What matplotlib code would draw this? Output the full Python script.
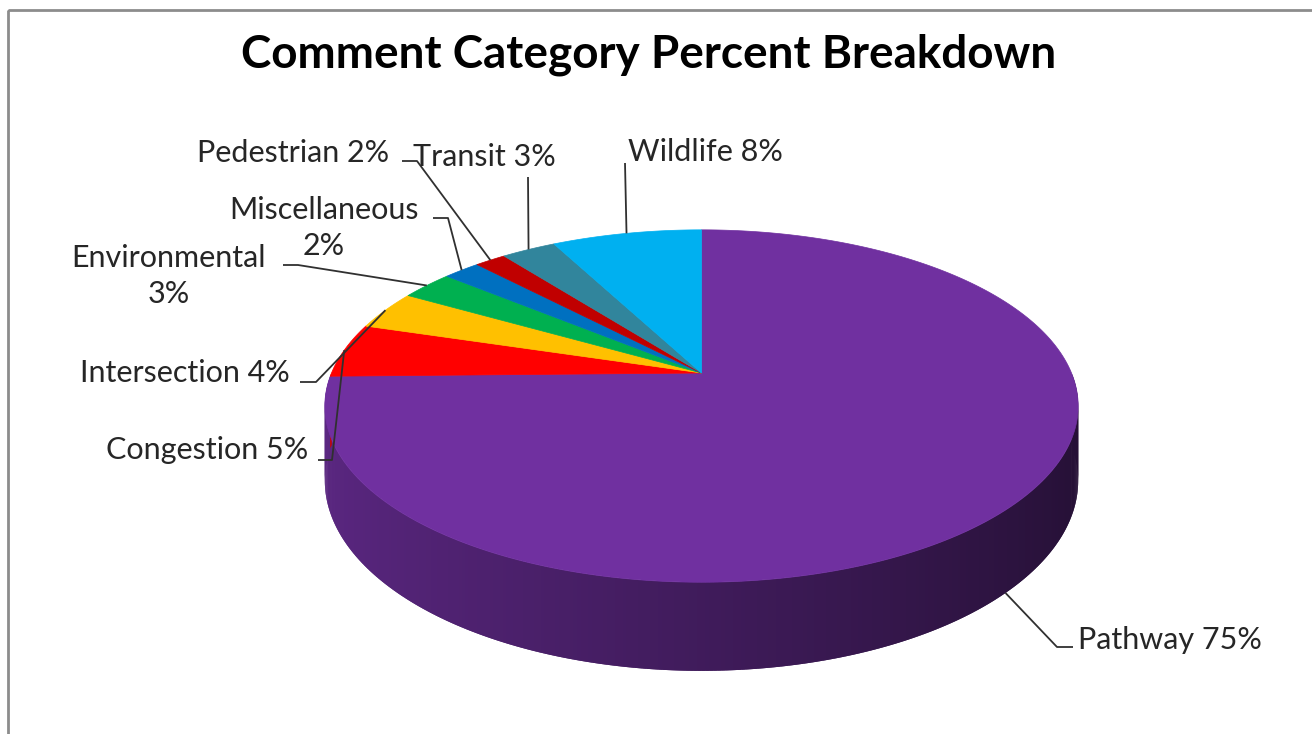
import numpy as np
import matplotlib
matplotlib.use('Agg')
import matplotlib.pyplot as plt
from matplotlib.patches import Polygon, Rectangle

# data, clockwise from 12 o'clock (Excel order)
categories = ['Pathway', 'Congestion', 'Intersection', 'Environmental',
              'Miscellaneous', 'Pedestrian', 'Transit', 'Wildlife']
percent = [74.7, 5.0, 3.6, 2.7, 1.9, 1.6, 2.8, 7.7]
colors = ['#7030A0', '#FF0000', '#FFC000', '#00B050',
          '#0070C0', '#C00000', '#31859C', '#00B0F0']
title = 'Comment Category Percent Breakdown'

# label layout (pixels): text x, text y, alignment, line break, leader knee points
label_sep = [' ', ' ', ' ', '\n', '\n', ' ', ' ', ' ']
label_pos = [(1078, 640, 'left'), (308, 450, 'right'), (290, 373, 'right'),
             (169, 276, 'center'), (324, 228, 'center'), (389, 153, 'right'),
             (413, 157, 'left'), (628, 152, 'left')]
label_knees = [[(1073, 647), (1057, 647)], [(318, 460), (332, 460)],
               [(300, 382), (316, 382)], [(283, 265), (298, 265)],
               [(433, 218), (448, 218)], [(402, 161), (417, 161)],
               [(528, 177)], [(625, 163)]]

# 3-D pie geometry (pixels)
CX, CY = 701.5, 373.0
RX, RY = 370.0, 170.0
PERSP = 0.1875
DEPTH = 72.0

W, H = 1312, 734
FONT = ['Lato', 'DejaVu Sans']


def rim(phi, drop=0.0):
    r = np.radians(phi)
    k = 1.0 / (1.0 + PERSP * np.sin(r))
    return CX + RX * np.cos(r) * k, CY - RY * np.sin(r) * k + drop * k


def shade(c, f):
    rgb = np.array(matplotlib.colors.to_rgb(c))
    return tuple(rgb * f)


fig = plt.figure(figsize=(W / 100, H / 100), dpi=100)
ax = fig.add_axes([0, 0, 1, 1])
ax.set_xlim(0, W)
ax.set_ylim(H, 0)
ax.axis('off')

# chart border
ax.add_patch(Rectangle((8, 10), 1340, 760, fill=False, ec='#8c8c8c', lw=2))

frac = np.array(percent) / sum(percent)
bounds = 90 - 360 * np.concatenate([[0], np.cumsum(frac)])

# side walls (front half only), shaded darker to the right
for i, c in enumerate(colors):
    a0, a1 = bounds[i], bounds[i + 1]
    lo, hi = max(a1, -180), min(a0, 0)
    if hi <= lo:
        continue
    steps = np.linspace(hi, lo, max(int((hi - lo) / 0.5) + 2, 2))
    for j, (p, q) in enumerate(zip(steps[:-1], steps[1:])):
        m = 0.5 * (p + q)
        f = 0.57 - 0.24 * np.cos(np.radians(m))
        # overlap into the next strip so no seams show
        q2 = steps[min(j + 2, len(steps) - 1)]
        xt1, yt1 = rim(p)
        xt2, yt2 = rim(q2)
        xb2, yb2 = rim(q2, DEPTH)
        xb1, yb1 = rim(p, DEPTH)
        ax.add_patch(Polygon([(xt1, yt1), (xt2, yt2), (xb2, yb2), (xb1, yb1)],
                             closed=True, fc=shade(c, f), ec='none'))

# top face
for i, c in enumerate(colors):
    a0, a1 = bounds[i], bounds[i + 1]
    ph = np.linspace(a0, a1, max(int(abs(a0 - a1)) * 2, 4))
    xs, ys = rim(ph)
    pts = [(CX, CY)] + list(zip(xs, ys))
    ax.add_patch(Polygon(pts, closed=True, fc=c, ec=c, lw=0.5))

# labels with leader lines
for i, name in enumerate(categories):
    mid = 0.5 * (bounds[i] + bounds[i + 1])
    front = np.sin(np.radians(mid)) < 0
    ax_, ay_ = rim(mid, DEPTH if front else 0)
    pts = label_knees[i] + [(ax_, ay_)]
    ax.plot([p[0] for p in pts], [p[1] for p in pts], color='#303030', lw=1.3,
            solid_capstyle='butt')
    x, y, ha = label_pos[i]
    ax.text(x, y, f'{name}{label_sep[i]}{round(percent[i])}%', ha=ha, va='center',
            ma='center', fontsize=22, color='#262626', family=FONT, linespacing=1.35)

ax.text(649, 55, title, ha='center', va='center', fontsize=33, fontweight='bold',
        color='black', family=FONT)

fig.savefig('out.png', dpi=100)
